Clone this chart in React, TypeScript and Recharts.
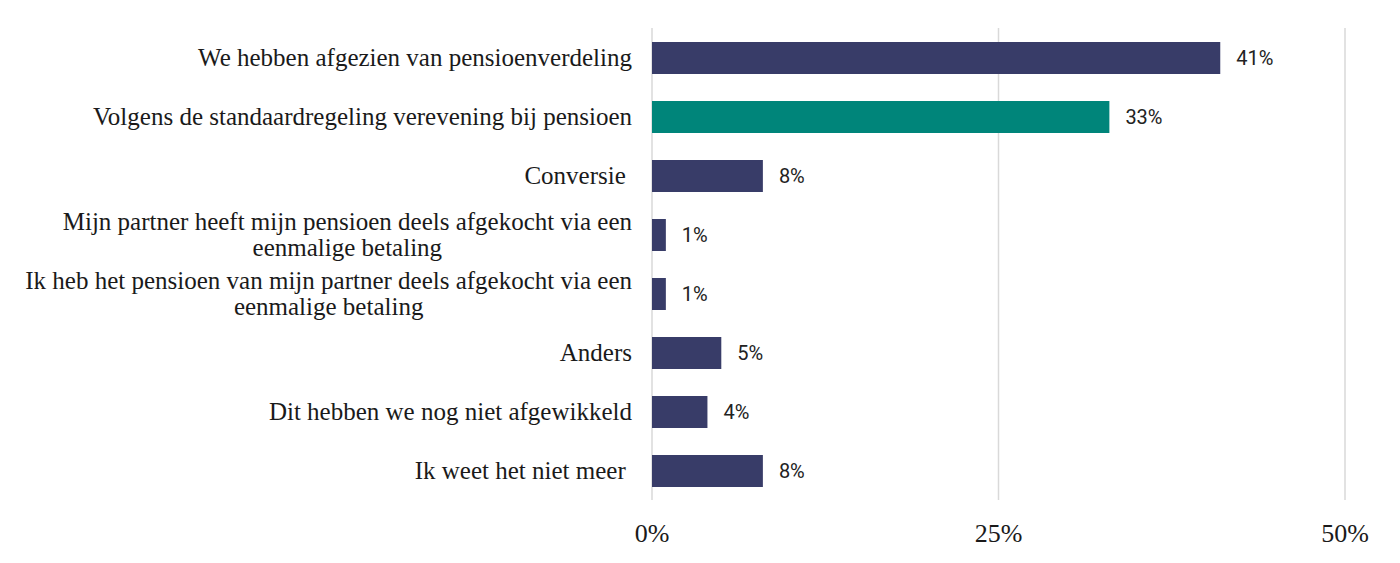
import { BarChart, Bar, XAxis, YAxis, CartesianGrid, Cell, LabelList } from 'recharts';

const categories = [
  'We hebben afgezien van pensioenverdeling',
  'Volgens de standaardregeling verevening bij pensioen',
  'Conversie\u00a0',
  'Mijn partner heeft mijn pensioen deels afgekocht via een\neenmalige betaling',
  'Ik heb het pensioen van mijn partner deels afgekocht via een\neenmalige betaling',
  'Anders',
  'Dit hebben we nog niet afgewikkeld',
  'Ik weet het niet meer\u00a0',
];
const values = [41, 33, 8, 1, 1, 5, 4, 8];
const colors = ['#383c68', '#00857a', '#383c68', '#383c68', '#383c68', '#383c68', '#383c68', '#383c68'];
const xTicks = [0, 25, 50];

const data = categories.map((name, i) => ({ name, value: values[i], color: colors[i] }));

const serif = '"Liberation Serif", "DejaVu Serif", serif';
const labelSize = 25;

// measure text so wrapped labels can be centred under their first line
let ctx: CanvasRenderingContext2D | null = null;
function textWidth(s: string) {
  if (!ctx) ctx = document.createElement('canvas').getContext('2d');
  if (!ctx) return s.length * labelSize * 0.45;
  ctx.font = `${labelSize}px ${serif}`;
  return ctx.measureText(s).width;
}

function CategoryTick({ x, y, payload }: any) {
  const lines = String(payload.value).split('\n');
  const lineHeight = 26;
  const right = x + 6;
  const startDy = -((lines.length - 1) * lineHeight) / 2;
  const blockWidth = Math.max(...lines.map(textWidth));
  const center = right - blockWidth / 2;
  const multi = lines.length > 1;
  return (
    <text x={right} y={y} fill="#1a1a1a" fontFamily={serif} fontSize={labelSize}>
      {lines.map((line, i) => (
        <tspan
          key={i}
          x={multi ? center : right}
          textAnchor={multi ? 'middle' : 'end'}
          dy={i === 0 ? startDy : lineHeight}
          dominantBaseline="central"
        >
          {line}
        </tspan>
      ))}
    </text>
  );
}

export default function App() {
  return (
    <div style={{ position: 'absolute', left: 0, top: 0, background: '#fff' }}>
      <BarChart
        width={1400}
        height={563}
        data={data}
        layout="vertical"
        margin={{ top: 28, right: 55, bottom: 13, left: 0 }}
      >
        <CartesianGrid horizontal={false} stroke="#d9d9d9" strokeWidth={1.5} />
        <XAxis
          type="number"
          domain={[0, 50]}
          ticks={xTicks}
          tickFormatter={(v) => `${v}%`}
          axisLine={false}
          tickLine={false}
          height={50}
          tick={{ fill: '#1a1a1a', fontFamily: serif, fontSize: 26 }}
          tickMargin={18}
          interval={0}
        />
        <YAxis
          type="category"
          dataKey="name"
          width={652}
          axisLine={false}
          tickLine={false}
          tickMargin={20}
          tick={<CategoryTick />}
          interval={0}
        />
        <Bar dataKey="value" barSize={32} isAnimationActive={false}>
          {data.map((entry, index) => (
            <Cell key={`cell-${index}`} fill={entry.color} />
          ))}
          <LabelList
            dataKey="value"
            position="right"
            offset={16}
            formatter={(v: any) => `${v}%`}
            style={{ fill: '#222', fontFamily: 'Roboto, sans-serif', fontSize: 20, fontWeight: 400 }}
          />
        </Bar>
      </BarChart>
    </div>
  );
}
